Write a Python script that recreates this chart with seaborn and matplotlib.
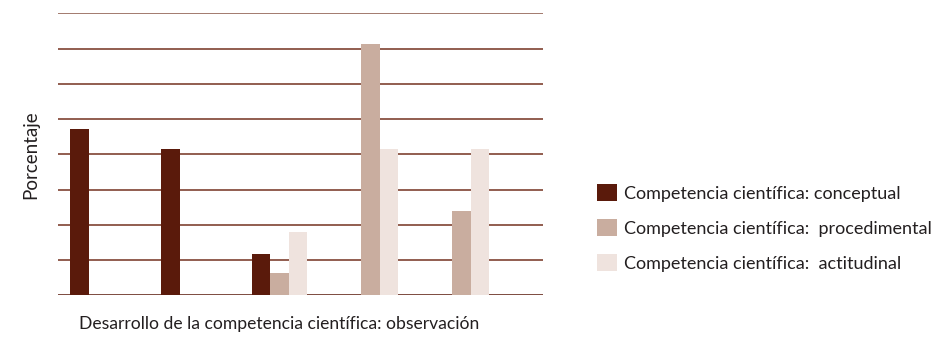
import matplotlib
matplotlib.use("Agg")
import matplotlib.pyplot as plt
import seaborn as sns
import pandas as pd
from matplotlib.patches import Patch

categories = ["1", "2", "3", "4", "5"]
series = ["Competencia científica: conceptual",
          "Competencia científica:  procedimental",
          "Competencia científica:  actitudinal"]
conceptual = [23.6, 20.8, 5.9, 0.0, 0.0]
procedimental = [0.0, 0.0, 3.1, 35.7, 12.0]
actitudinal = [0.0, 0.0, 9.0, 20.8, 20.8]
colors = ["#5a1a0b", "#c9ad9f", "#efe3de"]

rows = []
for name, vals in zip(series, [conceptual, procedimental, actitudinal]):
    for c, v in zip(categories, vals):
        rows.append({"cat": c, "serie": name, "valor": v})
df = pd.DataFrame(rows)

sns.set_theme(style="white")
plt.rcParams['font.family'] = ['Lato', 'DejaVu Sans']

fig = plt.figure(figsize=(9.45, 3.38), dpi=100)
ax = fig.add_axes([58/945, 1-295.3/338, 485/945, (295.3-13.3)/338])

sns.barplot(data=df, x="cat", y="valor", hue="serie", hue_order=series,
            palette=colors, width=0.612, gap=0, saturation=1,
            linewidth=0, legend=False, ax=ax, zorder=3)

ax.set_ylim(0, 40)
ax.set_xlim(-0.44, 4.90)
ax.set_yticks(range(0, 41, 5))
ax.set_yticklabels([])
ax.set_xticks([])
ax.tick_params(left=False, bottom=False)
for s in ax.spines.values():
    s.set_visible(False)
ax.yaxis.grid(True, color="#74311f", linewidth=1.1)
ax.set_axisbelow(True)
gl = ax.get_ygridlines()
gl[0].set_color("#5a1a0b")
gl[-1].set_color("#a27a6e")
gl[-1].set_linewidth(1.4)

ax.set_ylabel("Porcentaje", fontsize=13.5, color="#231f20")
ax.yaxis.set_label_coords((39 - 58) / 485, 0.5)
ax.set_xlabel("Desarrollo de la competencia científica: observación",
              fontsize=12.6, color="#231f20")
ax.xaxis.set_label_coords((279 - 58) / 485, (295.3 - 316) / 282)

handles = [Patch(facecolor=c, edgecolor="none") for c in colors]
fig.legend(handles, series, loc="upper left", bbox_to_anchor=(597/945, 1-184/338),
           frameon=False, fontsize=13, handlelength=1.1, handleheight=1.1,
           handletextpad=0.4, labelspacing=0.95, borderpad=0, borderaxespad=0,
           labelcolor="#231f20")

fig.savefig("out.png", dpi=100)
